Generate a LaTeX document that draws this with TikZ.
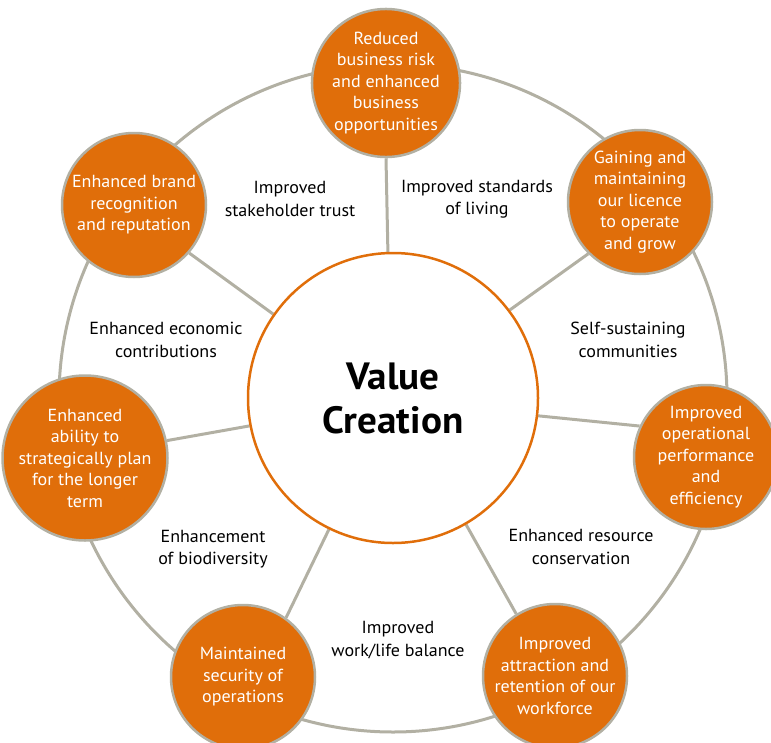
\documentclass[tikz,border=0pt]{standalone}
\usepackage{fontspec}
\setmainfont[FakeStretch=1.03]{PT Sans}
\usetikzlibrary{backgrounds}
\definecolor{vcorange}{RGB}{224,110,10}
\definecolor{vcgrey}{RGB}{178,176,163}
\tikzset{
  vc/.style={circle, minimum size=290pt, inner sep=0pt, draw=vcorange, line width=2.5pt, fill=white, align=center, font=\bfseries\fontsize{38}{44}\selectfont},
  ben/.style={circle, minimum size=144pt, inner sep=0pt, draw=vcgrey, line width=2.5pt, fill=vcorange, text=white, align=center, font=\fontsize{17.5}{21.5}\selectfont},
  lbl/.style={align=center, font=\fontsize{17.5}{22.5}\selectfont},
  ring/.style={draw=vcgrey, line width=3pt},
  spoke/.style={draw=vcgrey, line width=3pt}
}
\begin{document}
\begin{tikzpicture}[x=1pt,y=-1pt]
	\useasboundingbox (0,0) rectangle (771,742);
	\coordinate (mid) at (393,398);
	\draw[ring] (mid) circle[radius=334pt];
	%
	\node[vc] (vc) at (mid) {Value\\Creation};
	\node[ben] (risk) at (386,83) {Reduced\\business risk\\and enhanced\\business\\opportunities};
	\node[ben] (licence) at (640,202) {Gaining and\\maintaining\\our licence\\to operate\\and grow};
	\node[ben] (perform) at (706,457) {Improved\\operational\\performance\\and\\efficiency};
	\node[ben] (workforce) at (555,676) {Improved\\attraction and\\retention of our\\workforce};
	\node[ben] (security) at (243,677) {Maintained\\security of\\operations};
	\node[ben] (planning) at (85,458) {Enhanced\\ability to\\strategically plan\\for the longer\\term};
	\node[ben] (brand) at (134,205) {Enhanced brand\\recognition\\and reputation};
	%
	\node[lbl] (trust) at (290,199) {Improved\\stakeholder trust};
	\node[lbl] (living) at (477,199) {Improved standards\\of living};
	\node[lbl] (communities) at (628,340) {Self-sustaining\\communities};
	\node[lbl] (conservation) at (581,547) {Enhanced resource\\conservation};
	\node[lbl] (balance) at (398,640) {Improved\\work/life balance};
	\node[lbl] (biodiversity) at (213,549) {Enhancement\\of biodiversity};
	\node[lbl] (economic) at (166,340) {Enhanced economic\\contributions};
	%
	\begin{scope}[on background layer]
		\draw[spoke] (vc.92) -- (risk.270);
		\draw[spoke] (vc.37) -- (licence.225);
		\draw[spoke] (vc.353) -- (perform.155);
		\draw[spoke] (vc.300) -- (workforce.122);
		\draw[spoke] (vc.244) -- (security.54);
		\draw[spoke] (vc.191) -- (planning.12);
		\draw[spoke] (vc.145) -- (brand.319);
	\end{scope}
\end{tikzpicture}
\end{document}
